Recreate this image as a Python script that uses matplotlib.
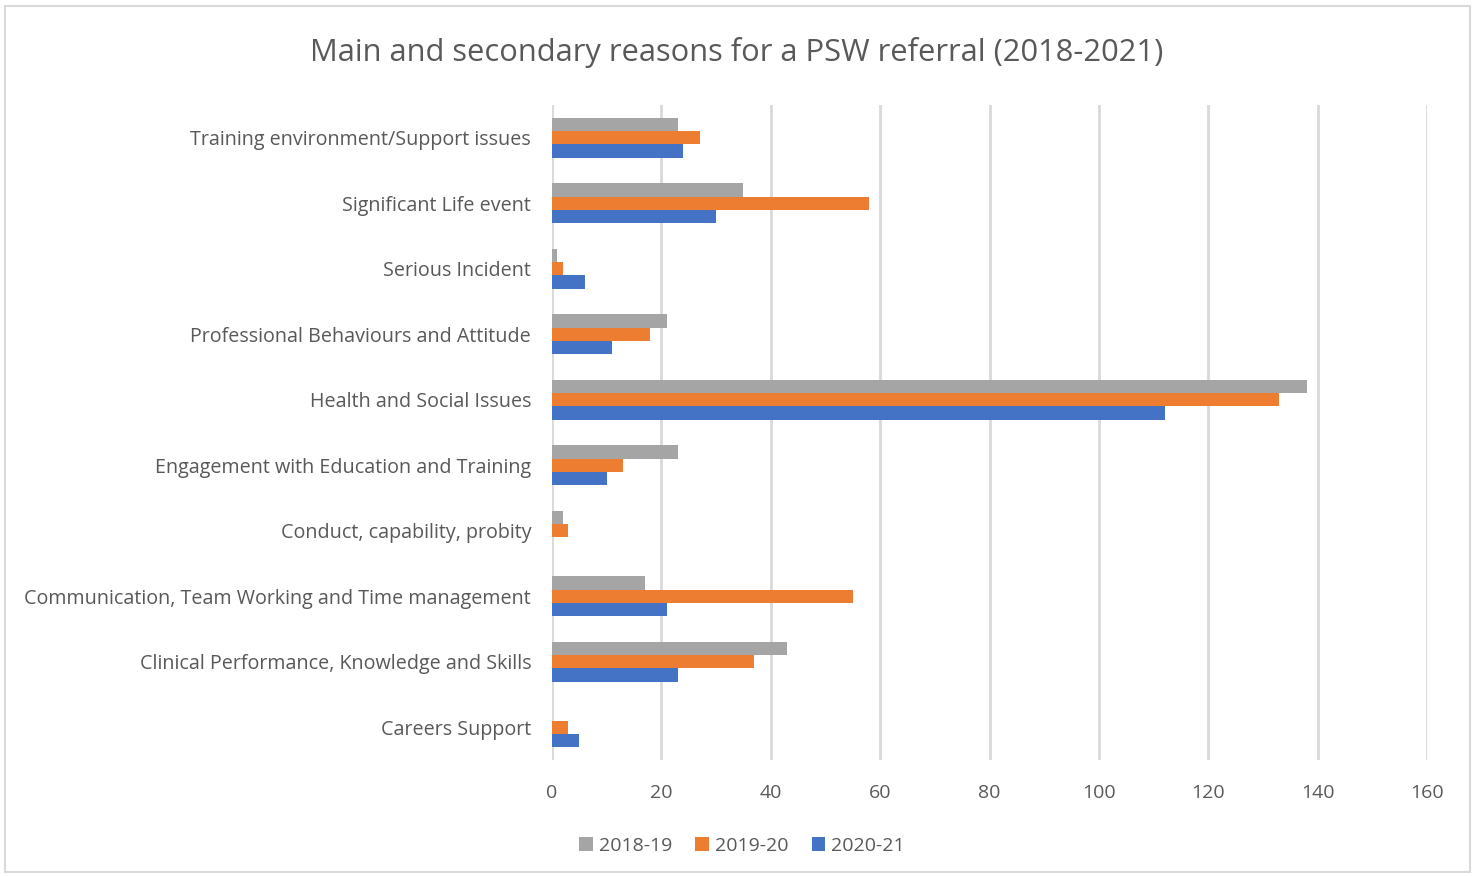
import numpy as np
import matplotlib.pyplot as plt
from matplotlib.patches import Rectangle

# categories listed bottom to top
categories = ["Careers Support",
              "Clinical Performance, Knowledge and Skills",
              "Communication, Team Working and Time management",
              "Conduct, capability, probity",
              "Engagement with Education and Training",
              "Health and Social Issues",
              "Professional Behaviours and Attitude",
              "Serious Incident",
              "Significant Life event",
              "Training environment/Support issues"]
y2018 = [0, 43, 17, 2, 23, 138, 21, 1, 35, 23]
y2019 = [3, 37, 55, 3, 13, 133, 18, 2, 58, 27]
y2020 = [5, 23, 21, 0, 10, 112, 11, 6, 30, 24]
series_names = ["2018-19", "2019-20", "2020-21"]
colors = ["#a5a5a5", "#ed7d31", "#4472c4"]
xticks = [0, 20, 40, 60, 80, 100, 120, 140, 160]

plt.rcParams['font.family'] = ['Open Sans', 'DejaVu Sans']
txt = "#595959"

fig = plt.figure(figsize=(14.75, 8.76), dpi=100)
ax = fig.add_axes([552/1475, 1-760/876, 875/1475, 655/876])

y = np.arange(len(categories))
h = 0.205
ax.barh(y + h, y2018, height=h, color=colors[0], label=series_names[0], zorder=3)
ax.barh(y, y2019, height=h, color=colors[1], label=series_names[1], zorder=3)
ax.barh(y - h, y2020, height=h, color=colors[2], label=series_names[2], zorder=3)

ax.set_xlim(0, 160)
ax.set_ylim(-0.5, len(categories) - 0.5)
ax.set_xticks(xticks)
ax.set_yticks(y)
ax.set_yticklabels(categories)
ax.tick_params(axis='y', length=0, labelsize=14.2, colors=txt, pad=15)
ax.tick_params(axis='x', length=0, labelsize=14, colors=txt, pad=17)
ax.grid(axis='x', color='#d9d9d9', linewidth=2, zorder=0)
for s in ax.spines.values():
    s.set_visible(False)

fig.text(737/1475, 1-52/876, "Main and secondary reasons for a PSW referral (2018-2021)",
         ha='center', va='center', fontsize=22.2, color=txt)

ax.legend(loc='center', bbox_to_anchor=(742/1475, 1-846/876), bbox_transform=fig.transFigure,
          ncol=3, frameon=False, fontsize=14, labelcolor=txt, handlelength=0.7,
          handleheight=0.7, handletextpad=0.3, columnspacing=1.2)

fig.patches.append(Rectangle((5/1475, 4/876), 1465/1475, 866/876, transform=fig.transFigure,
                             fill=False, edgecolor='#d9d9d9', linewidth=1.5))

fig.savefig("out.png", dpi=100)
